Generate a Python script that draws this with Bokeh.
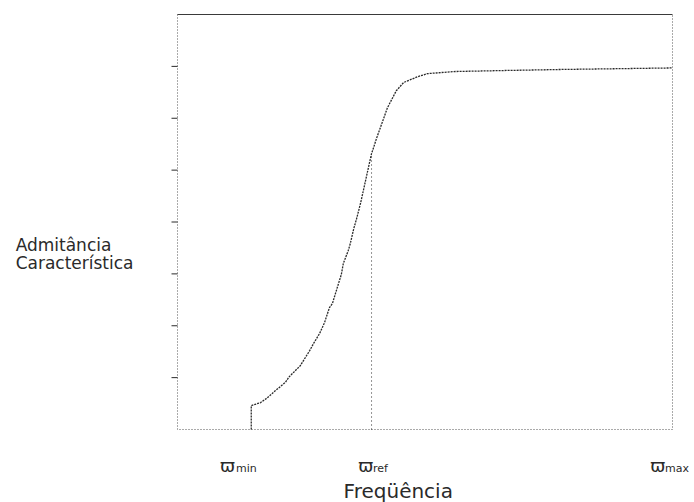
from bokeh.plotting import figure
from bokeh.models import Range1d, Label
from bokeh.embed import file_html
from bokeh.resources import INLINE

# Normalised frequency axis and characteristic admittance curve
omega_min = 1.49
omega_ref = 3.92
omega_max = 10.0

freq = [1.49, 1.49, 1.68, 1.80, 1.98, 2.18, 2.26, 2.48, 2.67, 2.75, 2.87,
        2.97, 3.07, 3.13, 3.21, 3.31, 3.35, 3.45, 3.49, 3.56, 3.62, 3.70,
        3.92, 3.96, 4.02, 4.14, 4.24, 4.42, 4.57, 4.85, 5.05, 5.58, 6.59,
        7.74, 10.0]
admittance = [0.0, 0.46, 0.52, 0.60, 0.75, 0.91, 1.02, 1.23, 1.52, 1.66, 1.85,
              2.06, 2.35, 2.43, 2.68, 2.99, 3.20, 3.45, 3.58, 3.87, 4.07, 4.37,
              5.32, 5.43, 5.61, 5.93, 6.20, 6.53, 6.69, 6.80, 6.86, 6.90, 6.92,
              6.94, 6.97]

y_ticks = [1, 2, 3, 4, 5, 6, 7]

tick_names = ["min", "ref", "max"]
tick_values = [omega_min, omega_ref, omega_max]

FONT = "DejaVu Sans"
INK = "#2a2a2a"

# plotting box spans 0..10 in frequency and 0..8 in admittance;
# the ranges leave room around it for the hand-placed labels
X0, X1 = 0.0, 10.0
Y0, Y1 = 0.0, 8.0
px_x = 49.5      # pixels per frequency unit
px_y = 51.875    # pixels per admittance unit

p = figure(width=694, height=502, output_backend="svg", toolbar_location=None,
           x_range=Range1d(X0 - 177 / px_x, X1 + 22 / px_x),
           y_range=Range1d(Y0 - 73 / px_y, Y1 + 14 / px_y),
           min_border=0)
p.grid.visible = False
p.axis.visible = False
p.outline_line_color = None
p.background_fill_color = "white"
p.border_fill_color = "white"

# frame: solid top edge, dotted sides and base
p.line([X0, X1], [Y1, Y1], line_color="#3a3a3a", line_width=1.2)
p.line([X0, X0, X1, X1], [Y1, Y0, Y0, Y1], line_color="#555555",
       line_width=1, line_dash="1 2")

# outward tick marks on the admittance side (no numbers)
tick_len = 6 / px_x
p.segment(x0=[X0 - tick_len] * len(y_ticks), y0=y_ticks,
          x1=[X0] * len(y_ticks), y1=y_ticks, line_color=INK, line_width=1)

# admittance curve
p.line(freq, admittance, line_color=INK, line_width=1.3, line_dash="2 1")

# dotted marker at the reference frequency
i_ref = freq.index(omega_ref)
p.segment(x0=[omega_ref], y0=[Y0], x1=[omega_ref], y1=[admittance[i_ref]],
          line_color=INK, line_width=1, line_dash="1 3")

# frequency labels under the axis: omega-bar with subscript
sym_dx = [-0.63, -0.27, -0.45]
sub_dx = [-0.31, 0.03, -0.15]
for name, xv, dx1, dx2 in zip(tick_names, tick_values, sym_dx, sub_dx):
    p.add_layout(Label(x=xv + dx1, y=-0.694, text="ϖ", text_font=FONT,
                       text_font_size="18px", text_color=INK,
                       text_baseline="alphabetic", text_align="left"))
    p.add_layout(Label(x=xv + dx2, y=-0.752, text=name, text_font=FONT,
                       text_font_size="11px", text_color=INK,
                       text_baseline="alphabetic", text_align="left"))

p.add_layout(Label(x=4.46, y=-1.176, text="Freqüência", text_font=FONT,
                   text_font_size="20px", text_color=INK,
                   text_baseline="alphabetic", text_align="center"))

p.add_layout(Label(x=-3.27, y=3.566, text="Admitância", text_font=FONT,
                   text_font_size="17px", text_color=INK,
                   text_baseline="alphabetic", text_align="left"))
p.add_layout(Label(x=-3.27, y=3.219, text="Característica", text_font=FONT,
                   text_font_size="17px", text_color=INK,
                   text_baseline="alphabetic", text_align="left"))

open("out.html", "w").write(file_html(p, INLINE))
